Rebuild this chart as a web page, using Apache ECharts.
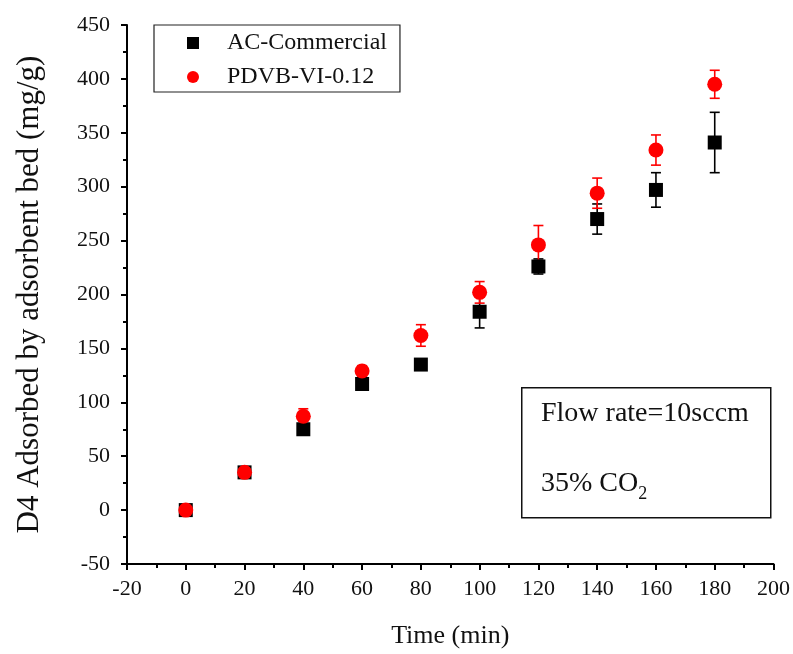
<!DOCTYPE html>
<html><head><meta charset="utf-8">
<script src="https://cdn.jsdelivr.net/npm/echarts@6/dist/echarts.min.js"></script>
<style>html,body{margin:0;padding:0;background:#fff}#c{width:793px;height:654px}</style>
</head><body><div id="c"></div>
<script>
const times = [0, 20, 40, 60, 80, 100, 120, 140, 160, 180];
const acValues = [0, 35, 75, 117, 135, 184, 226, 270, 297, 341];
const acErrors = [2, 2, 3, 3, 2, 15, 7, 14, 16, 28];
const pdvbValues = [0, 35, 87, 129, 162, 202, 246, 294, 334, 395];
const pdvbErrors = [2, 3, 7, 5, 10, 10, 18, 14, 14, 13];
const seriesNames = ['AC-Commercial', 'PDVB-VI-0.12'];
const annotationLines = ['Flow rate=10sccm', '35% CO'];

const FONT = 'Liberation Serif';
const chart = echarts.init(document.getElementById('c'));

function errData(vals, errs) {
  return times.map((t, i) => [t, vals[i] - errs[i], vals[i] + errs[i]]);
}
function errSeries(name, vals, errs, color) {
  return {
    type: 'custom', name: name, z: 1,
    data: errData(vals, errs),
    itemStyle: { color: color },
    renderItem: function (params, api) {
      const lo = api.coord([api.value(0), api.value(1)]);
      const hi = api.coord([api.value(0), api.value(2)]);
      const w = 5;
      const st = { stroke: color, lineWidth: 1.6 };
      return { type: 'group', children: [
        { type: 'line', shape: { x1: lo[0], y1: lo[1], x2: hi[0], y2: hi[1] }, style: st },
        { type: 'line', shape: { x1: lo[0] - w, y1: lo[1], x2: lo[0] + w, y2: lo[1] }, style: st },
        { type: 'line', shape: { x1: hi[0] - w, y1: hi[1], x2: hi[0] + w, y2: hi[1] }, style: st }
      ]};
    },
    silent: true
  };
}

chart.setOption({
  animation: false,
  backgroundColor: '#fff',
  textStyle: { fontFamily: FONT },
  grid: { left: 127, right: 19, top: 25, bottom: 90 },
  legend: {
    left: 154, top: 25, orient: 'vertical',
    data: [
      { name: seriesNames[0], icon: 'rect', itemStyle: { color: '#000' } },
      { name: seriesNames[1], icon: 'circle', itemStyle: { color: '#ff0000' } }
    ],
    itemWidth: 12, itemHeight: 12, itemGap: 10,
    padding: [6, 13, 3, 33],
    borderColor: '#222', borderWidth: 1.2, borderRadius: 0,
    formatter: function (n) { return '{t|' + n + '}'; },
    textStyle: {
      fontFamily: FONT, fontSize: 24, lineHeight: 24, color: '#111',
      rich: { t: { fontFamily: FONT, fontSize: 24, lineHeight: 24, color: '#111', padding: [0, 0, 0, 23] } }
    }
  },
  xAxis: {
    type: 'value', min: -20, max: 200, interval: 20,
    name: 'Time (min)', nameLocation: 'middle', nameGap: 59,
    nameTextStyle: { fontFamily: FONT, fontSize: 26, color: '#111' },
    axisLine: { onZero: false, lineStyle: { color: '#000', width: 2 } },
    axisTick: { length: 6, lineStyle: { width: 2, color: '#000' } },
    minorTick: { show: true, splitNumber: 2, length: 4, lineStyle: { width: 2, color: '#000' } },
    axisLabel: { fontFamily: FONT, fontSize: 22, color: '#111', margin: 14 },
    splitLine: { show: false }
  },
  yAxis: {
    type: 'value', min: -50, max: 450, interval: 50,
    name: 'D4 Adsorbed by adsorbent bed (mg/g)', nameLocation: 'middle', nameGap: 82, nameRotate: 90,
    nameTextStyle: { fontFamily: FONT, fontSize: 31, color: '#111' },
    axisLine: { onZero: false, lineStyle: { color: '#000', width: 2 } },
    axisTick: { length: 6, lineStyle: { width: 2, color: '#000' } },
    minorTick: { show: true, splitNumber: 2, length: 4, lineStyle: { width: 2, color: '#000' } },
    axisLabel: { fontFamily: FONT, fontSize: 22, color: '#111', margin: 17 },
    splitLine: { show: false }
  },
  series: [
    errSeries('err-ac', acValues, acErrors, '#000'),
    errSeries('err-pdvb', pdvbValues, pdvbErrors, '#ff0000'),
    {
      name: seriesNames[0], type: 'scatter', symbol: 'rect', symbolSize: 14, z: 2,
      itemStyle: { color: '#000', opacity: 1 },
      data: times.map((t, i) => [t, acValues[i]])
    },
    {
      name: seriesNames[1], type: 'scatter', symbol: 'circle', symbolSize: 15, z: 3,
      itemStyle: { color: '#ff0000', opacity: 1 },
      data: times.map((t, i) => [t, pdvbValues[i]])
    }
  ],
  graphic: [
    { type: 'rect', left: 521, top: 387, shape: { width: 249, height: 130 },
      style: { fill: '#fff', stroke: '#111', lineWidth: 1.5 }, z: 10 },
    { type: 'text', left: 541, top: 400, z: 11,
      style: { text: annotationLines[0], font: '28px ' + FONT, fill: '#111' } },
    { type: 'text', left: 541, top: 470, z: 11,
      style: { text: '{a|' + annotationLines[1] + '}{s|2}', fill: '#111',
        rich: { a: { fontFamily: FONT, fontSize: 28, verticalAlign: 'bottom' },
                s: { fontFamily: FONT, fontSize: 18, verticalAlign: 'bottom', padding: [0, 0, -5, 0] } } } }
  ]
});
</script></body></html>
